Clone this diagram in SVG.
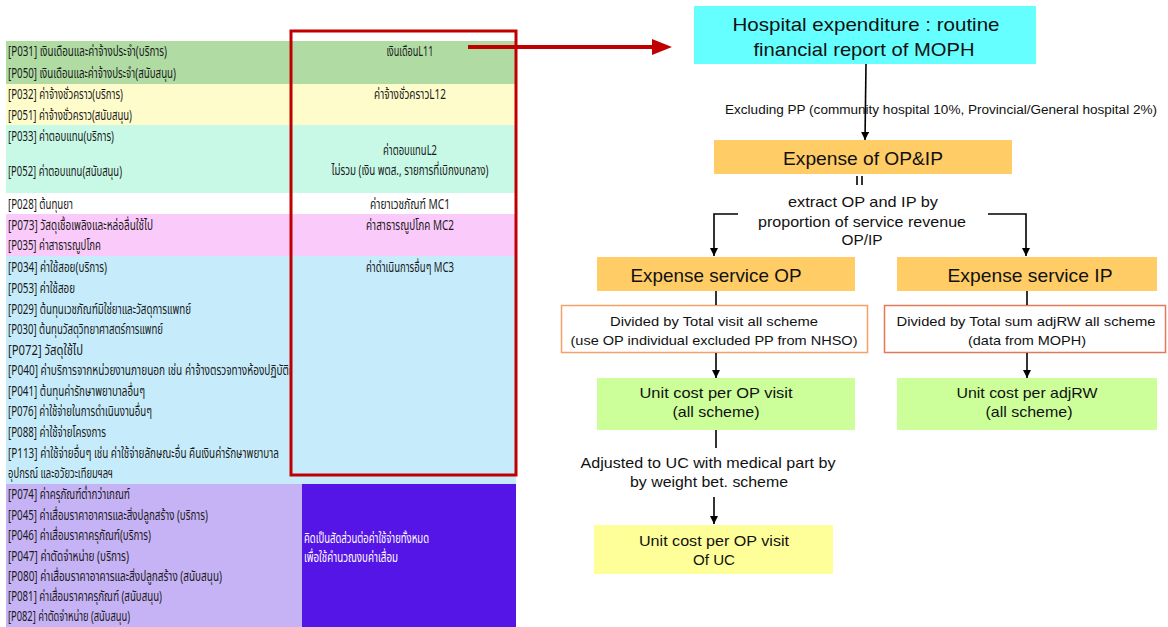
<svg xmlns="http://www.w3.org/2000/svg" width="1168" height="627" viewBox="0 0 1168 627">
<style>
.th{font-family:"Noto Sans Thai","Tahoma","DejaVu Sans","Noto Sans",sans-serif;font-size:13.5px;fill:#1a1a1a}
.thc{font-family:"Noto Sans Thai","Tahoma","DejaVu Sans","Noto Sans",sans-serif;font-size:13.5px;fill:#1a1a1a;text-anchor:middle}
.thw{font-family:"Noto Sans Thai","Tahoma","DejaVu Sans","Noto Sans",sans-serif;font-size:13.5px;fill:#ffffff}
.en{font-family:"Liberation Sans",Arial,sans-serif;fill:#111;text-anchor:middle}
.big{font-size:19px}
.mid{font-size:15px}
.sm{font-size:13.5px}
.xs{font-size:12.5px}
.conn{stroke:#000;stroke-width:1.6;fill:none}
</style>
<defs>
<marker id="ah" markerUnits="userSpaceOnUse" markerWidth="10" markerHeight="10" refX="8" refY="4" orient="auto">
<path d="M0,0 L8,4 L0,8 z" fill="#000"/>
</marker>
<marker id="rah" markerUnits="userSpaceOnUse" markerWidth="24" markerHeight="20" refX="4" refY="8" orient="auto">
<path d="M0,0 L20,8 L0,16 z" fill="#c00000"/>
</marker>
<clipPath id="leftcol"><rect x="0" y="0" width="290" height="627"/></clipPath>
</defs>
<rect x="0" y="0" width="1168" height="627" fill="#ffffff"/>

<g id="table">
<rect x="6" y="41" width="510" height="43" fill="#b0dca4"/>
<rect x="6" y="84" width="510" height="41" fill="#fffccc"/>
<rect x="6" y="125" width="510" height="68" fill="#c8f9e6"/>
<rect x="6" y="193" width="510" height="21" fill="#ffffff"/>
<rect x="6" y="214" width="510" height="42" fill="#facafa"/>
<rect x="6" y="256" width="510" height="228" fill="#c6ecfb"/>
<rect x="6" y="484" width="296" height="143" fill="#c6b3f5"/>
<rect x="302" y="484" width="214" height="143" fill="#5515e6"/>

<text class="th" x="8" y="56" textLength="159" lengthAdjust="spacingAndGlyphs">[P031] เงินเดือนและค่าจ้างประจำ(บริการ)</text>
<text class="th" x="8" y="78" textLength="168" lengthAdjust="spacingAndGlyphs">[P050] เงินเดือนและค่าจ้างประจำ(สนับสนุน)</text>
<text class="th" x="8" y="99" textLength="115" lengthAdjust="spacingAndGlyphs">[P032] ค่าจ้างชั่วคราว(บริการ)</text>
<text class="th" x="8" y="120" textLength="124" lengthAdjust="spacingAndGlyphs">[P051] ค่าจ้างชั่วคราว(สนับสนุน)</text>
<text class="th" x="8" y="141" textLength="106" lengthAdjust="spacingAndGlyphs">[P033] ค่าตอบแทน(บริการ)</text>
<text class="th" x="8" y="176" textLength="114" lengthAdjust="spacingAndGlyphs">[P052] ค่าตอบแทน(สนับสนุน)</text>
<text class="th" x="8" y="209" textLength="65" lengthAdjust="spacingAndGlyphs">[P028] ต้นทุนยา</text>
<text class="th" x="8" y="230" textLength="145" lengthAdjust="spacingAndGlyphs">[P073] วัสดุเชื้อเพลิงและหล่อลื่นใช้ไป</text>
<text class="th" x="8" y="250" textLength="93" lengthAdjust="spacingAndGlyphs">[P035] ค่าสาธารณูปโภค</text>
<text class="th" x="8" y="272" textLength="99" lengthAdjust="spacingAndGlyphs">[P034] ค่าใช้สอย(บริการ)</text>
<text class="th" x="8" y="293" textLength="67" lengthAdjust="spacingAndGlyphs">[P053] ค่าใช้สอย</text>
<text class="th" x="8" y="314" textLength="183" lengthAdjust="spacingAndGlyphs">[P029] ต้นทุนเวชภัณฑ์มิใช่ยาและวัสดุการแพทย์</text>
<text class="th" x="8" y="334" textLength="155" lengthAdjust="spacingAndGlyphs">[P030] ต้นทุนวัสดุวิทยาศาสตร์การแพทย์</text>
<text class="th" x="8" y="355" textLength="75" lengthAdjust="spacingAndGlyphs">[P072] วัสดุใช้ไป</text>
<g clip-path="url(#leftcol)">
<text class="th" x="8" y="375" textLength="296" lengthAdjust="spacingAndGlyphs">[P040] ค่าบริการจากหน่วยงานภายนอก เช่น ค่าจ้างตรวจทางห้องปฏิบัติการ</text>
</g>
<text class="th" x="8" y="396" textLength="137" lengthAdjust="spacingAndGlyphs">[P041] ต้นทุนค่ารักษาพยาบาลอื่นๆ</text>
<text class="th" x="8" y="416" textLength="144" lengthAdjust="spacingAndGlyphs">[P076] ค่าใช้จ่ายในการดำเนินงานอื่นๆ</text>
<text class="th" x="8" y="437" textLength="98" lengthAdjust="spacingAndGlyphs">[P088] ค่าใช้จ่ายโครงการ</text>
<text class="th" x="8" y="458" textLength="271" lengthAdjust="spacingAndGlyphs">[P113] ค่าใช้จ่ายอื่นๆ เช่น ค่าใช้จ่ายลักษณะอื่น คืนเงินค่ารักษาพยาบาล</text>
<text class="th" x="8" y="478" textLength="105" lengthAdjust="spacingAndGlyphs">อุปกรณ์ และอวัยวะเทียมฯลฯ</text>
<text class="th" x="8" y="499" textLength="122" lengthAdjust="spacingAndGlyphs">[P074] ค่าครุภัณฑ์ต่ำกว่าเกณฑ์</text>
<text class="th" x="8" y="520" textLength="200" lengthAdjust="spacingAndGlyphs">[P045] ค่าเสื่อมราคาอาคารและสิ่งปลูกสร้าง (บริการ)</text>
<text class="th" x="8" y="540" textLength="143" lengthAdjust="spacingAndGlyphs">[P046] ค่าเสื่อมราคาครุภัณฑ์(บริการ)</text>
<text class="th" x="8" y="561" textLength="121" lengthAdjust="spacingAndGlyphs">[P047] ค่าตัดจำหน่าย (บริการ)</text>
<text class="th" x="8" y="581" textLength="214" lengthAdjust="spacingAndGlyphs">[P080] ค่าเสื่อมราคาอาคารและสิ่งปลูกสร้าง  (สนับสนุน)</text>
<text class="th" x="8" y="601" textLength="154" lengthAdjust="spacingAndGlyphs">[P081] ค่าเสื่อมราคาครุภัณฑ์ (สนับสนุน)</text>
<text class="th" x="8" y="621" textLength="122" lengthAdjust="spacingAndGlyphs">[P082] ค่าตัดจำหน่าย (สนับสนุน)</text>

<text class="thc" x="410" y="56" textLength="47" lengthAdjust="spacingAndGlyphs">เงินเดือนL11</text>
<text class="thc" x="410" y="99" textLength="72" lengthAdjust="spacingAndGlyphs">ค่าจ้างชั่วคราวL12</text>
<text class="thc" x="410" y="155" textLength="54" lengthAdjust="spacingAndGlyphs">ค่าตอบแทนL2</text>
<text class="thc" x="410" y="175" textLength="157" lengthAdjust="spacingAndGlyphs">ไม่รวม (เงิน พตส., รายการที่เบิกงบกลาง)</text>
<text class="thc" x="410" y="209" textLength="80" lengthAdjust="spacingAndGlyphs">ค่ายาเวชภัณฑ์ MC1</text>
<text class="thc" x="410" y="230" textLength="88" lengthAdjust="spacingAndGlyphs">ค่าสาธารณูปโภค MC2</text>
<text class="thc" x="410" y="272" textLength="88" lengthAdjust="spacingAndGlyphs">ค่าดำเนินการอื่นๆ MC3</text>
<text class="thw" x="304" y="543" textLength="125" lengthAdjust="spacingAndGlyphs">คิดเป็นสัดส่วนต่อค่าใช้จ่ายทั้งหมด</text>
<text class="thw" x="304" y="562" textLength="94" lengthAdjust="spacingAndGlyphs">เพื่อใช้คำนวณงบค่าเสื่อม</text>

<rect id="highlight" x="291" y="31" width="225" height="444" fill="none" stroke="#c00000" stroke-width="3"/>
</g>

<g id="n-hospital">
<rect x="694" y="6" width="342" height="58" fill="#66ffff"/>
<text class="en big" x="866" y="31" textLength="267" lengthAdjust="spacingAndGlyphs">Hospital expenditure : routine</text>
<text class="en big" x="864" y="56" textLength="221" lengthAdjust="spacingAndGlyphs">financial report of MOPH</text>
</g>

<g id="n-expense-opip">
<rect x="714" y="140" width="298" height="34" fill="#ffcc66"/>
<text class="en big" x="863" y="165" textLength="160" lengthAdjust="spacingAndGlyphs">Expense of OP&amp;IP</text>
</g>

<g id="n-expense-op">
<rect x="597" y="257" width="258" height="34" fill="#ffcc66"/>
<text class="en big" x="716" y="282" textLength="171" lengthAdjust="spacingAndGlyphs">Expense service OP</text>
</g>

<g id="n-expense-ip">
<rect x="897" y="257" width="260" height="34" fill="#ffcc66"/>
<text class="en big" x="1030" y="282" textLength="165" lengthAdjust="spacingAndGlyphs">Expense service IP</text>
</g>

<g id="n-divided-op">
<rect x="561.5" y="305.5" width="306" height="47" fill="#ffffff" stroke="#f4a06a" stroke-width="1.5"/>
<text class="en sm" x="714" y="326" textLength="208" lengthAdjust="spacingAndGlyphs">Divided by Total visit all scheme</text>
<text class="en sm" x="714" y="345" textLength="287" lengthAdjust="spacingAndGlyphs">(use OP individual excluded PP from NHSO)</text>
</g>

<g id="n-divided-ip">
<rect x="884.5" y="305.5" width="281" height="47" fill="#ffffff" stroke="#e07a58" stroke-width="1.5"/>
<text class="en sm" x="1026" y="326" textLength="259" lengthAdjust="spacingAndGlyphs">Divided by Total sum adjRW all scheme</text>
<text class="en sm" x="1027" y="345" textLength="118" lengthAdjust="spacingAndGlyphs">(data from MOPH)</text>
</g>

<g id="n-unit-op">
<rect x="597" y="378" width="258" height="52" fill="#ccff99"/>
<text class="en mid" x="716" y="398" textLength="153" lengthAdjust="spacingAndGlyphs">Unit cost  per OP visit</text>
<text class="en mid" x="716" y="417" textLength="87" lengthAdjust="spacingAndGlyphs">(all scheme)</text>
</g>

<g id="n-unit-ip">
<rect x="897" y="378" width="260" height="52" fill="#ccff99"/>
<text class="en mid" x="1027" y="398" textLength="141" lengthAdjust="spacingAndGlyphs">Unit cost  per adjRW</text>
<text class="en mid" x="1029" y="417" textLength="87" lengthAdjust="spacingAndGlyphs">(all scheme)</text>
</g>

<g id="n-unit-uc">
<rect x="594" y="525" width="239" height="49" fill="#ffff99"/>
<text class="en mid" x="714" y="546" textLength="150" lengthAdjust="spacingAndGlyphs">Unit cost per OP visit</text>
<text class="en mid" x="714" y="565" textLength="42" lengthAdjust="spacingAndGlyphs">Of UC</text>
</g>

<g id="connectors">
<line x1="468" y1="47" x2="656" y2="47" stroke="#c00000" stroke-width="4" marker-end="url(#rah)"/>
<line class="conn" x1="866" y1="64" x2="865" y2="140" marker-end="url(#ah)"/>
<text class="en xs" x="941" y="114" textLength="432" lengthAdjust="spacingAndGlyphs">Excluding PP  (community hospital 10%, Provincial/General hospital 2%)</text>
<line class="conn" x1="857" y1="176" x2="857" y2="185"/>
<line class="conn" x1="862" y1="176" x2="862" y2="185"/>
<text class="en mid" x="863" y="207" textLength="150" lengthAdjust="spacingAndGlyphs">extract OP and IP by</text>
<text class="en mid" x="862" y="227" textLength="208" lengthAdjust="spacingAndGlyphs">proportion of service revenue</text>
<text class="en mid" x="862" y="245" textLength="41" lengthAdjust="spacingAndGlyphs">OP/IP</text>
<polyline class="conn" points="738,214 714,214 714,256" marker-end="url(#ah)"/>
<polyline class="conn" points="988,214 1026,214 1026,256" marker-end="url(#ah)"/>
<line class="conn" x1="716" y1="291" x2="716" y2="305"/>
<line class="conn" x1="1027" y1="291" x2="1027" y2="305"/>
<line class="conn" x1="716" y1="353" x2="716" y2="378" marker-end="url(#ah)"/>
<line class="conn" x1="1027" y1="353" x2="1027" y2="378" marker-end="url(#ah)"/>
<line class="conn" x1="716" y1="430" x2="716" y2="448"/>
<text class="en mid" x="708" y="468" textLength="255" lengthAdjust="spacingAndGlyphs">Adjusted to UC with medical part by</text>
<text class="en mid" x="709" y="487" textLength="158" lengthAdjust="spacingAndGlyphs">by weight bet. scheme</text>
<line class="conn" x1="714" y1="497" x2="714" y2="524" marker-end="url(#ah)"/>
</g>
</svg>
